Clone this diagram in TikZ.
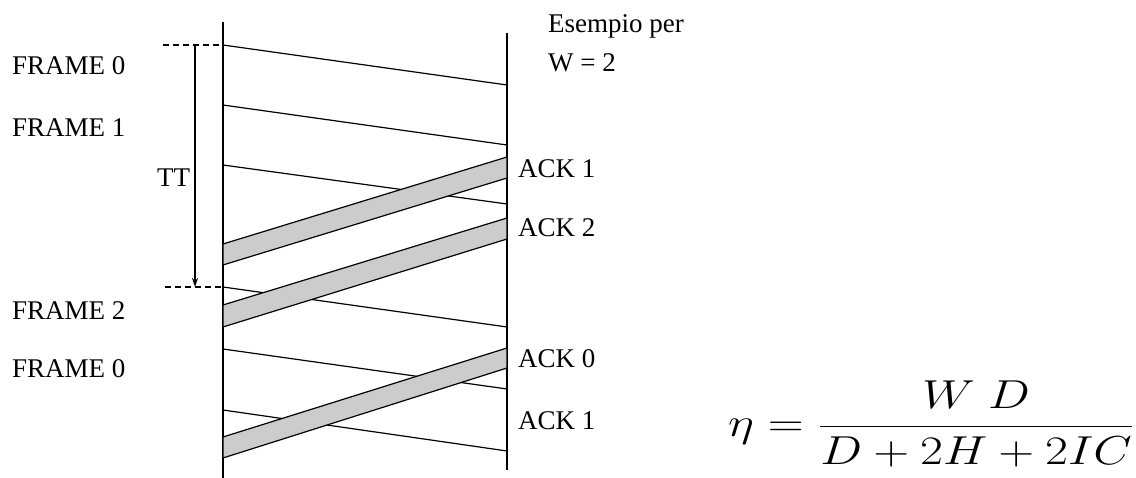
\documentclass[tikz,border=0pt]{standalone}
\usepackage{graphicx}
\usepackage{fontspec}
\setmainfont{Liberation Serif}
\usetikzlibrary{arrows.meta}

\begin{document}
\begin{tikzpicture}[x=1pt, y=-1pt, >={Stealth[length=9pt,width=6pt]},
    timeline/.style={line width=1.5pt},
    framemsg/.style={line width=1.2pt},
    ackband/.style={fill=gray!40, draw=black, line width=1.2pt, line join=round},
    tmark/.style={line width=1.2pt, dash pattern=on 6pt off 4pt},
    lbl/.style={anchor=base west, inner sep=0pt, font=\fontsize{27}{32}\selectfont}
]
\useasboundingbox (0,0) rectangle (1136,478);

% Timelines: sender (left) and receiver (right)
\coordinate (stop) at (223,22);
\coordinate (sbot) at (223,478);
\coordinate (rtop) at (507,33);
\coordinate (rbot) at (507,470);
\draw [timeline] (stop) -- (sbot);
\draw [timeline] (rtop) -- (rbot);

% Frame send / arrival times
\coordinate (s0) at (223,45);  \coordinate (r0) at (507,85);
\coordinate (s1) at (223,105); \coordinate (r1) at (507,145);
\coordinate (s2) at (223,165); \coordinate (r2) at (507,204);
\coordinate (s3) at (223,287); \coordinate (r3) at (507,327);
\coordinate (s4) at (223,349); \coordinate (r4) at (507,389);
\coordinate (s5) at (223,410); \coordinate (r5) at (507,451);

\draw [framemsg] (s0) -- (r0);
\draw [framemsg] (s1) -- (r1);
\draw [framemsg] (s2) -- (r2);
\draw [framemsg] (s3) -- (r3);
\draw [framemsg] (s4) -- (r4);
\draw [framemsg] (s5) -- (r5);

% ACK bands (receiver to sender)
\coordinate (a1t) at (507,157); \coordinate (a1b) at (507,178);
\coordinate (b1t) at (223,244); \coordinate (b1b) at (223,265);
\coordinate (a2t) at (507,218); \coordinate (a2b) at (507,239);
\coordinate (b2t) at (223,305); \coordinate (b2b) at (223,327);
\coordinate (a0t) at (507,348); \coordinate (a0b) at (507,368);
\coordinate (b0t) at (223,437); \coordinate (b0b) at (223,458);

\draw [ackband] (a1t) -- (b1t) -- (b1b) -- (a1b) -- cycle;
\draw [ackband] (a2t) -- (b2t) -- (b2b) -- (a2b) -- cycle;
\draw [ackband] (a0t) -- (b0t) -- (b0b) -- (a0b) -- cycle;

% TT interval
\coordinate (tt0) at (163,45);
\coordinate (tt1) at (165,287);
\coordinate (ttu) at (195,45);
\coordinate (ttd) at (195,287);
\draw [tmark] (tt0) -- (s0);
\draw [tmark] (tt1) -- (s3);
\draw [->, line width=1.2pt] (ttu) -- (ttd);

% Labels
\node (lf0) [lbl] at (12,75)  {FRAME 0};
\node (lf1) [lbl] at (12,137) {FRAME 1};
\node (ltt) [lbl] at (157,187) {TT};
\node (lf2) [lbl] at (12,320) {FRAME 2};
\node (lf3) [lbl] at (12,378) {FRAME 0};

\node (la1) [lbl] at (518,178) {ACK 1};
\node (la2) [lbl] at (518,237) {ACK 2};
\node (la0) [lbl] at (518,368) {ACK 0};
\node (la3) [lbl] at (518,430) {ACK 1};

\node (ex1) [lbl] at (548,33) {Esempio per};
\node (ex2) [lbl] at (548,72) {W = 2};

% Efficiency
\node (eff) [anchor=west, inner sep=0pt, font=\fontsize{22}{26}\selectfont] at (728,424)
    {\scalebox{2.4}[1.95]{$\displaystyle \eta = \frac{W\ D}{D + 2H + 2IC}$}};

\end{tikzpicture}
\end{document}
